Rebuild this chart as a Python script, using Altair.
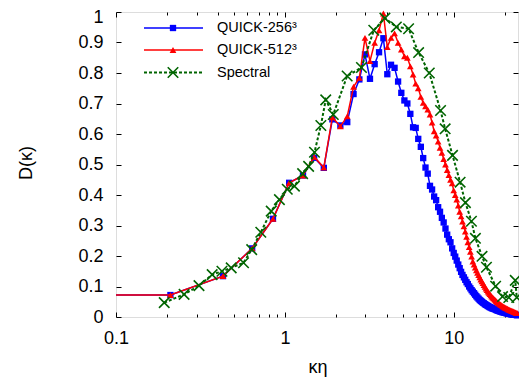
import altair as alt
import pandas as pd

FONT = "Liberation Sans"

# wavenumber grid (kappa*eta) of the QUICK runs; first entry is the clipped left extension
k_grid = [0.05,
          0.21, 0.43, 0.64, 0.85, 1.06, 1.28, 1.49, 1.70, 1.91, 2.13,
          2.34, 2.55, 2.76, 2.98, 3.19, 3.40, 3.61, 3.83, 4.04, 4.25,
          4.46, 4.68, 4.89, 5.10, 5.31, 5.53, 5.74, 5.95, 6.16, 6.38,
          6.59, 6.80, 7.01, 7.23, 7.44, 7.65, 7.86, 8.08, 8.29, 8.50,
          8.71, 8.93, 9.14, 9.35, 9.56, 9.78, 9.99, 10.20, 10.41, 10.63,
          10.84, 11.05, 11.26, 11.48, 11.69, 11.90, 12.11, 12.33, 12.54, 12.75,
          12.96, 13.18, 13.39, 13.60, 13.81, 14.03, 14.24, 14.45, 14.66, 14.88,
          15.09, 15.30, 15.51, 15.73, 15.94, 16.15, 16.36, 16.58, 16.79, 17.00,
          17.21, 17.43, 17.64, 17.85, 18.06, 18.28, 18.49, 18.70, 18.91, 19.13,
          19.34, 19.55, 19.76, 19.98, 20.19, 20.40, 20.61, 20.83, 21.04, 21.25,
          21.46, 21.68, 21.89, 22.10, 22.31, 22.53, 22.74, 22.95, 23.16, 23.38,
          23.59, 23.80, 24.01, 24.23, 24.44, 24.65]

d_quick256 = [0.072,
              0.072, 0.134, 0.225, 0.322, 0.440, 0.464, 0.522, 0.489, 0.648, 0.628,
              0.639, 0.731, 0.779, 0.861, 0.781, 0.829, 0.868, 0.914, 0.796, 0.827,
              0.817, 0.772, 0.735, 0.710, 0.700, 0.666, 0.622, 0.620, 0.584, 0.558,
              0.521, 0.490, 0.470, 0.430, 0.418, 0.395, 0.383, 0.360, 0.345, 0.325,
              0.310, 0.290, 0.270, 0.255, 0.245, 0.225, 0.210, 0.198, 0.185, 0.172,
              0.160, 0.148, 0.138, 0.130, 0.122, 0.114, 0.108, 0.100, 0.094, 0.088,
              0.083, 0.078, 0.073, 0.068, 0.064, 0.060, 0.056, 0.053, 0.050, 0.047,
              0.045, 0.042, 0.040, 0.038, 0.036, 0.034, 0.032, 0.031, 0.029, 0.028,
              0.027, 0.026, 0.025, 0.023, 0.022, 0.021, 0.020, 0.019, 0.018, 0.017,
              0.016, 0.016, 0.015, 0.014, 0.014, 0.013, 0.012, 0.012, 0.011, 0.011,
              0.010, 0.010, 0.009, 0.009, 0.008, 0.008, 0.008, 0.007, 0.007, 0.007,
              0.006, 0.006, 0.006, 0.005, 0.005, 0.005]

d_quick512 = [0.072,
              0.072, 0.134, 0.225, 0.322, 0.440, 0.464, 0.525, 0.490, 0.655, 0.625,
              0.658, 0.755, 0.784, 0.915, 0.839, 0.899, 0.940, 0.995, 0.885, 0.915,
              0.930, 0.899, 0.877, 0.855, 0.850, 0.822, 0.795, 0.765, 0.750, 0.722,
              0.702, 0.691, 0.680, 0.664, 0.637, 0.609, 0.595, 0.575, 0.555, 0.538,
              0.518, 0.500, 0.482, 0.465, 0.450, 0.438, 0.415, 0.400, 0.385, 0.365,
              0.345, 0.330, 0.313, 0.297, 0.280, 0.263, 0.245, 0.229, 0.214, 0.198,
              0.182, 0.172, 0.162, 0.153, 0.145, 0.137, 0.130, 0.123, 0.117, 0.111,
              0.105, 0.099, 0.093, 0.088, 0.083, 0.079, 0.075, 0.071, 0.067, 0.064,
              0.061, 0.058, 0.055, 0.052, 0.049, 0.047, 0.045, 0.043, 0.041, 0.039,
              0.037, 0.035, 0.034, 0.032, 0.031, 0.029, 0.028, 0.027, 0.025, 0.024,
              0.023, 0.022, 0.021, 0.020, 0.019, 0.018, 0.017, 0.016, 0.015, 0.014,
              0.013, 0.013, 0.012, 0.011, 0.011, 0.010]

k_spectral = [0.193, 0.253, 0.310, 0.371, 0.424, 0.481, 0.569, 0.636, 0.720, 0.830,
              0.928, 1.033, 1.139, 1.273, 1.382, 1.497, 1.633, 1.745, 1.934, 2.337,
              2.840, 3.360, 3.910, 4.570, 5.400, 6.190, 7.160, 8.350, 8.890, 9.830,
              10.90, 11.72, 12.72, 13.43, 14.70, 15.61, 17.69, 19.44, 21.17, 23.12,
              23.60]
d_spectral = [0.047, 0.074, 0.103, 0.139, 0.150, 0.161, 0.178, 0.221, 0.278, 0.347,
              0.385, 0.419, 0.429, 0.470, 0.494, 0.540, 0.628, 0.712, 0.664, 0.790,
              0.818, 0.940, 0.980, 0.951, 0.945, 0.867, 0.800, 0.677, 0.617, 0.530,
              0.442, 0.375, 0.314, 0.258, 0.199, 0.163, 0.101, 0.067, 0.064, 0.120,
              0.064]

series_names = ["QUICK-256³", "QUICK-512³", "Spectral"]
colors = ["#0000ff", "#ff0000", "#006400"]

x_major = [0.1, 1, 10]
x_minor = [0.2, 0.3, 0.4, 0.5, 0.6, 0.7, 0.8, 0.9, 2, 3, 4, 5, 6, 7, 8, 9, 20]
y_ticks = [0, 0.1, 0.2, 0.3, 0.4, 0.5, 0.6, 0.7, 0.8, 0.9, 1]
X_MAX = 24.0

W, H = 402, 305
XPATH = "M-1,-1L1,1M-1,1L1,-1"

df256 = pd.DataFrame({"k": k_grid, "d": d_quick256})
df512 = pd.DataFrame({"k": k_grid, "d": d_quick512})
dfsp = pd.DataFrame({"k": k_spectral, "d": d_spectral})

xscale = alt.Scale(type="log", domain=[0.1, X_MAX], nice=False)
yscale = alt.Scale(domain=[0, 1], nice=False, zero=False)
in_view = f"datum.k >= 0.1 && datum.k <= {X_MAX}"


def ax(orient, values, size, labels=False, pad=0, loff=0):
    kw = dict(orient=orient, values=values, tickSize=size, offset=-size, domain=False,
              grid=False, labels=labels, title=None, tickColor="black", tickWidth=1)
    if labels:
        kw.update(format="~g", labelPadding=pad, labelFont=FONT, labelFontSize=18,
                  labelColor="black", labelFlush=False, labelOverlap=False,
                  labelOffset=loff)
    return alt.Axis(**kw)


def enc(xaxis=None, yaxis=None):
    return dict(x=alt.X("k:Q", scale=xscale, axis=xaxis, title=None),
                y=alt.Y("d:Q", scale=yscale, axis=yaxis, title=None))


layers = []
# QUICK-256
layers.append(alt.Chart(df256).mark_line(color=colors[0], strokeWidth=1.5, clip=True)
              .encode(**enc(ax("bottom", x_major, 5, True, 12), ax("left", y_ticks[:-1], 5, True, 13))))
layers.append(alt.Chart(df256).transform_filter(in_view)
              .mark_point(shape="square", filled=True, size=40, color=colors[0], opacity=1)
              .encode(**enc(ax("top", x_major, 5), ax("right", y_ticks, 5))))
# QUICK-512
layers.append(alt.Chart(df512).mark_line(color=colors[1], strokeWidth=1.5, clip=True)
              .encode(**enc(ax("bottom", x_minor, 3), None)))
layers.append(alt.Chart(df512).transform_filter(in_view)
              .mark_point(shape="triangle-up", filled=True, size=45, color=colors[1], opacity=1)
              .encode(**enc(ax("top", x_minor, 3), None)))
# Spectral
layers.append(alt.Chart(dfsp).mark_line(color=colors[2], strokeWidth=2, strokeDash=[3, 2], clip=True)
              .encode(**enc()))
layers.append(alt.Chart(dfsp).transform_filter(in_view)
              .mark_point(shape=XPATH, filled=False, size=110, color=colors[2],
                          strokeWidth=1.6, opacity=1)
              .encode(**enc(None, ax("left", [1], 5, True, 13, 5))))

# legend (top-left, inside the frame)
leg_rows = [16, 38, 60.5]
shapes = ["square", "triangle-up", XPATH]
sizes = [40, 45, 110]
for i, name in enumerate(series_names):
    ldf = pd.DataFrame({"label": [name]})
    rule_kw = dict(color=colors[i], strokeWidth=2 if i == 2 else 1.5)
    if i == 2:
        rule_kw["strokeDash"] = [3, 2]
    layers.append(alt.Chart(ldf).mark_rule(**rule_kw)
                  .encode(x=alt.value(28), x2=alt.value(87), y=alt.value(leg_rows[i])))
    pt_kw = dict(shape=shapes[i], size=sizes[i], color=colors[i], opacity=1,
                 filled=(i != 2))
    if i == 2:
        pt_kw["strokeWidth"] = 1.6
    layers.append(alt.Chart(ldf).mark_point(**pt_kw)
                  .encode(x=alt.value(57), y=alt.value(leg_rows[i])))
    layers.append(alt.Chart(ldf).mark_text(align="left", baseline="middle", font=FONT,
                                           fontSize=14.5, color="black")
                  .encode(x=alt.value(101), y=alt.value(leg_rows[i]), text="label:N"))

# axis titles
titles = pd.DataFrame({"t": ["κη", "D(κ)"]})
layers.append(alt.Chart(titles).transform_filter("datum.t == 'κη'")
              .mark_text(align="center", baseline="alphabetic", font=FONT, fontSize=18, color="black")
              .encode(x=alt.value(202), y=alt.value(361), text="t:N"))
layers.append(alt.Chart(titles).transform_filter("datum.t == 'D(κ)'")
              .mark_text(align="center", baseline="middle", font=FONT, fontSize=18, color="black",
                         angle=270)
              .encode(x=alt.value(-89), y=alt.value(151), text="t:N"))

chart = (alt.layer(*layers)
         .resolve_axis(x="independent", y="independent")
         .properties(width=W, height=H,
                     autosize=alt.AutoSizeParams(type="none"),
                     padding={"left": 108, "top": 4, "right": 1, "bottom": 61})
         .configure_view(stroke="black", strokeWidth=1)
         .configure(background="white"))

chart.save("out.html", embed_options={"renderer": "svg", "actions": False})
